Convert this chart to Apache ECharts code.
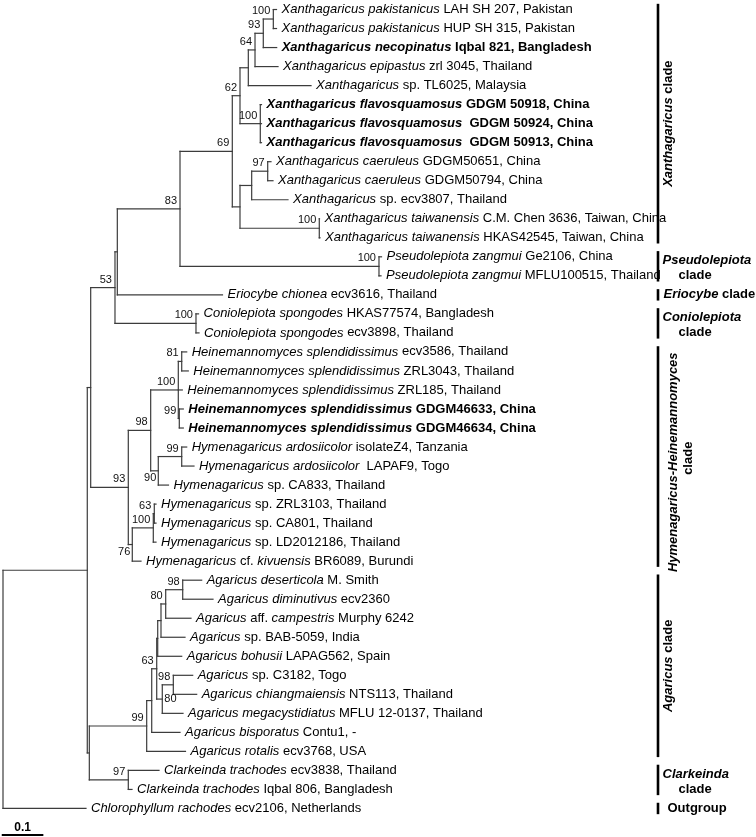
<!DOCTYPE html>
<html><head><meta charset="utf-8">
<script src="https://cdn.jsdelivr.net/npm/echarts@6/dist/echarts.min.js"></script>
<style>html,body{margin:0;padding:0;background:#fff}#c{width:756px;height:837px}</style>
</head><body><div id="c"></div>
<script>
// ---------- DATA ----------
// leaf labels, italic parts between *...*
const leafLabels = [
  "*Xanthagaricus pakistanicus* LAH SH 207, Pakistan",
  "*Xanthagaricus pakistanicus* HUP SH 315, Pakistan",
  "*Xanthagaricus necopinatus* Iqbal 821, Bangladesh",
  "*Xanthagaricus epipastus* zrl 3045, Thailand",
  "*Xanthagaricus* sp. TL6025, Malaysia",
  "*Xanthagaricus flavosquamosus* GDGM 50918, China",
  "*Xanthagaricus flavosquamosus*  GDGM 50924, China",
  "*Xanthagaricus flavosquamosus*  GDGM 50913, China",
  "*Xanthagaricus caeruleus* GDGM50651, China",
  "*Xanthagaricus caeruleus* GDGM50794, China",
  "*Xanthagaricus* sp. ecv3807, Thailand",
  "*Xanthagaricus taiwanensis* C.M. Chen 3636, Taiwan, China",
  "*Xanthagaricus taiwanensis* HKAS42545, Taiwan, China",
  "*Pseudolepiota zangmui* Ge2106, China",
  "*Pseudolepiota zangmui* MFLU100515, Thailand",
  "*Eriocybe chionea* ecv3616, Thailand",
  "*Coniolepiota spongodes* HKAS77574, Bangladesh",
  "*Coniolepiota spongodes* ecv3898, Thailand",
  "*Heinemannomyces splendidissimus* ecv3586, Thailand",
  "*Heinemannomyces splendidissimus* ZRL3043, Thailand",
  "*Heinemannomyces splendidissimus* ZRL185, Thailand",
  "*Heinemannomyces splendidissimus* GDGM46633, China",
  "*Heinemannomyces splendidissimus* GDGM46634, China",
  "*Hymenagaricus ardosiicolor* isolateZ4, Tanzania",
  "*Hymenagaricus ardosiicolor*  LAPAF9, Togo",
  "*Hymenagaricus* sp. CA833, Thailand",
  "*Hymenagaricus* sp. ZRL3103, Thailand",
  "*Hymenagaricus* sp. CA801, Thailand",
  "*Hymenagaricus* sp. LD2012186, Thailand",
  "*Hymenagaricus* cf. *kivuensis* BR6089, Burundi",
  "*Agaricus deserticola* M. Smith",
  "*Agaricus diminutivus* ecv2360",
  "*Agaricus* aff. *campestris* Murphy 6242",
  "*Agaricus* sp. BAB-5059, India",
  "*Agaricus bohusii* LAPAG562, Spain",
  "*Agaricus* sp. C3182, Togo",
  "*Agaricus chiangmaiensis* NTS113, Thailand",
  "*Agaricus megacystidiatus* MFLU 12-0137, Thailand",
  "*Agaricus bisporatus* Contu1, -",
  "*Agaricus rotalis* ecv3768, USA",
  "*Clarkeinda trachodes* ecv3838, Thailand",
  "*Clarkeinda trachodes* Iqbal 806, Bangladesh",
  "*Chlorophyllum rachodes* ecv2106, Netherlands"
];
const boldLeaves = [2, 5, 6, 7, 21, 22];
// distance from root of each leaf tip (substitutions/site)
const leafDepths = [
  0.6575, 0.6575, 0.6579, 0.6611, 0.7404, 0.6214, 0.6214, 0.6214, 0.6442, 0.6490,
  0.6851, 0.7608, 0.7620, 0.9099, 0.9087, 0.5276, 0.4700, 0.4712, 0.4416, 0.4454,
  0.4310, 0.4334, 0.4334, 0.4416, 0.4591, 0.3978, 0.3678, 0.3678, 0.3678, 0.3317,
  0.4776, 0.5048, 0.4519, 0.4375, 0.4296, 0.4560, 0.4656, 0.4327, 0.4255, 0.4387,
  0.3750, 0.3101, 0.1995
];
// internal nodes: children (N# = node, L# = leaf)
const nodeChildren = [
  ['N1','L42'], ['N2','N3'], ['N4','N5'], ['N6','N7'], ['N8','N9'],
  ['N10','N11'], ['N12','L39'], ['L40','L41'], ['N13','L15'], ['L16','L17'],
  ['N14','N15'], ['N16','L29'], ['N17','L38'], ['N18','N19'], ['N20','L20','N21'],
  ['N22','L25'], ['N23','L28'], ['N24','N25'], ['N26','N27'], ['L13','L14'],
  ['L18','L19'], ['L21','L22'], ['L23','L24'], ['L26','L27'], ['N28','L34'],
  ['N29','L37'], ['N30','N31'], ['N32','N33'], ['N34','L33'], ['L35','L36'],
  ['N35','L4'], ['L5','L6','L7'], ['N36','L10'], ['L11','L12'], ['N37','L32'],
  ['N38','L3'], ['L8','L9'], ['L30','L31'], ['N39','L2'], ['L0','L1']
];
const nodeDepths = [
  0, 0.2026, 0.2108, 0.2075, 0.2692, 0.3012, 0.3454, 0.3012, 0.2748, 0.4639,
  0.3550, 0.3108, 0.3575, 0.4255, 0.4214, 0.3733, 0.3613, 0.3695, 0.5512, 0.9038,
  0.4296, 0.4238, 0.4296, 0.3637, 0.3719, 0.3829, 0.5697, 0.5697, 0.3798, 0.4094,
  0.5897, 0.6185, 0.5978, 0.7603, 0.3911, 0.6058, 0.6363, 0.4320, 0.6257, 0.6498
];
const nodeSupport = [
  null, null, null, null, 53, 93, 99, 97, null, 100,
  98, 76, null, 83, 100, 90, 100, 63, 69, 100,
  81, 99, 99, 63, null, 80, 62, null, null, 98,
  null, 100, null, 100, 80, 64, 97, 98, 93, 100
];
// where a support value sits relative to its node (default: above-left)
const supportPlacement = { 11: 'below', 15: 'below', 25: 'right' };
// clades on the right
const cladeNames = ['Xanthagaricus', 'Pseudolepiota', 'Eriocybe', 'Coniolepiota',
  'Hymenagaricus-Heinemannomyces', 'Agaricus', 'Clarkeinda', 'Outgroup'];
const cladeFirstLeaf = [0, 13, 15, 16, 18, 30, 40, 42];
const cladeLastLeaf  = [12, 14, 15, 17, 29, 39, 41, 42];
const cladeLayout = ['vertical', 'twoLine', 'inline', 'twoLine', 'vertical2', 'vertical', 'twoLine', 'plain'];
const scaleBarLength = 0.1;
const scaleBarLabel = '0.1';

// ---------- LAYOUT HELPERS ----------
const FONT = '"Liberation Sans", Arial, Helvetica, sans-serif';
const LINE_COLOR = '#3c3c3c';
const PX_PER_UNIT = 416;          // 0.1 substitutions = 41.6 px
const GRID_LEFT = 3;
const X_MAX = (756 - GRID_LEFT) / PX_PER_UNIT;
const CLADE_BAR_X = (658 - GRID_LEFT) / PX_PER_UNIT;
const LABEL_GAP = 5;

function ref(r) { return { leaf: r[0] === 'L', i: +r.slice(1) }; }
const nodeY = [];
function yOf(r) {
  const o = ref(r);
  if (o.leaf) return o.i;
  if (nodeY[o.i] != null) return nodeY[o.i];
  const ch = nodeChildren[o.i];
  const v = (yOf(ch[0]) + yOf(ch[ch.length - 1])) / 2;
  nodeY[o.i] = v;
  return v;
}
function depthOf(r) { const o = ref(r); return o.leaf ? leafDepths[o.i] : nodeDepths[o.i]; }
nodeChildren.forEach((_, i) => yOf('N' + i));

// branch segments
const segments = [];
nodeChildren.forEach((ch, i) => {
  const d = nodeDepths[i];
  segments.push([d, yOf(ch[0]), d, yOf(ch[ch.length - 1])]);
  ch.forEach(c => segments.push([d, yOf(c), depthOf(c), yOf(c)]));
});

function richFor(label, bold) {
  const parts = label.split('*');
  let s = '';
  parts.forEach((p, k) => {
    if (!p) return;
    const it = k % 2 === 1;
    const key = bold ? (it ? 'bi' : 'b') : (it ? 'i' : 'n');
    s += '{' + key + '|' + p + '}';
  });
  return s;
}
function richStyles(size) {
  return {
    n:  { fontSize: size, fontFamily: FONT, fill: '#000' },
    i:  { fontSize: size, fontFamily: FONT, fontStyle: 'italic', fill: '#000' },
    b:  { fontSize: size, fontFamily: FONT, fontWeight: 'bold', fill: '#000' },
    bi: { fontSize: size, fontFamily: FONT, fontStyle: 'italic', fontWeight: 'bold', fill: '#000' }
  };
}
const RICH13 = richStyles(13);

const leafData = leafDepths.map((d, i) => [d, i]);
const supportData = [];
nodeSupport.forEach((s, i) => { if (s != null) supportData.push([nodeDepths[i], nodeY[i], i]); });
const cladeData = cladeNames.map((n, k) => [CLADE_BAR_X, cladeFirstLeaf[k], cladeLastLeaf[k], k]);

const chart = echarts.init(document.getElementById('c'), null, { renderer: 'canvas' });
chart.setOption({
  animation: false,
  backgroundColor: '#fff',
  grid: { left: GRID_LEFT, right: 0, top: 0, bottom: 0 },
  xAxis: { type: 'value', min: 0, max: X_MAX, show: false },
  yAxis: { type: 'value', min: -0.5, max: 43.5, inverse: true, show: false },
  series: [
    {
      type: 'custom', name: 'branches', data: segments, encode: { x: [0, 2], y: [1, 3] },
      renderItem: (params, api) => {
        const a = api.coord([api.value(0), api.value(1)]);
        const b = api.coord([api.value(2), api.value(3)]);
        return { type: 'line', shape: { x1: a[0], y1: a[1], x2: b[0], y2: b[1] },
          style: { stroke: LINE_COLOR, lineWidth: 1.2, lineCap: 'square' } };
      }
    },
    {
      type: 'custom', name: 'leaves', data: leafData, encode: { x: 0, y: 1 },
      renderItem: (params, api) => {
        const i = params.dataIndex;
        const p = api.coord([api.value(0), api.value(1)]);
        return { type: 'text', x: p[0] + LABEL_GAP, y: p[1],
          style: { text: richFor(leafLabels[i], boldLeaves.includes(i)), rich: RICH13,
            fontSize: 13, fontFamily: FONT, fill: '#000', align: 'left', verticalAlign: 'middle' } };
      }
    },
    {
      type: 'custom', name: 'support', data: supportData, encode: { x: 0, y: 1 },
      renderItem: (params, api) => {
        const ni = api.value(2);
        const p = api.coord([api.value(0), api.value(1)]);
        const where = supportPlacement[ni] || 'above';
        let x = p[0] - 3, y = p[1] - 8, align = 'right';
        if (where === 'below') { x = p[0] - 2; y = p[1] + 7; }
        if (where === 'right') { x = p[0] + 2; y = p[1]; align = 'left'; }
        return { type: 'text', x: x, y: y,
          style: { text: String(nodeSupport[ni]), fontSize: 11, fontFamily: FONT, fill: '#111',
            align: align, verticalAlign: 'middle' } };
      }
    },
    {
      type: 'custom', name: 'clades', data: cladeData, encode: { x: 0, y: 1 },
      renderItem: (params, api) => {
        const k = api.value(3);
        const first = api.value(1), last = api.value(2);
        const top = api.coord([api.value(0), first - 0.3]);
        const bot = api.coord([api.value(0), last + 0.3]);
        const bx = top[0];
        const children = [{ type: 'line', shape: { x1: bx, y1: top[1], x2: bx, y2: bot[1] },
          style: { stroke: '#000', lineWidth: 2.6 } }];
        const name = cladeNames[k];
        const lay = cladeLayout[k];
        const mid = (top[1] + bot[1]) / 2;
        const T = (text, x, y, align, rot) => ({ type: 'text', x: x, y: y, rotation: rot || 0,
          style: { text: text, rich: RICH13, fontSize: 13, fontFamily: FONT, fill: '#000',
            align: align, verticalAlign: 'middle' } });
        if (lay === 'vertical') {
          children.push(T('{bi|' + name + '}{b| clade}', bx + 10, mid, 'center', Math.PI / 2));
        } else if (lay === 'vertical2') {
          const c = api.coord([0, (first + last) / 2 + 0.3])[1];
          children.push(T('{bi|' + name + '}', bx + 15, c, 'center', Math.PI / 2));
          children.push(T('{b|clade}', bx + 30.5, c - 4, 'center', Math.PI / 2));
        } else if (lay === 'twoLine') {
          const y1 = api.coord([0, first + 0.2])[1];
          const y2 = api.coord([0, last])[1];
          children.push(T('{bi|' + name + '}', bx + 4.5, y1, 'left'));
          children.push(T('{b|clade}', bx + 20.5, y2, 'left'));
        } else if (lay === 'inline') {
          const y1 = api.coord([0, first])[1];
          children.push(T('{bi|' + name + '}{b| clade}', bx + 5.5, y1, 'left'));
        } else {
          const y1 = api.coord([0, first])[1];
          children.push(T('{b|' + name + '}', bx + 9.5, y1, 'left'));
        }
        return { type: 'group', children: children };
      }
    },
    {
      type: 'custom', name: 'scale', data: [[-0.003, 43.39]], encode: { x: 0, y: 1 },
      renderItem: (params, api) => {
        const a = api.coord([api.value(0), api.value(1)]);
        const b = api.coord([api.value(0) + scaleBarLength, api.value(1)]);
        return { type: 'group', children: [
          { type: 'line', shape: { x1: a[0], y1: a[1], x2: b[0], y2: b[1] }, style: { stroke: '#000', lineWidth: 2 } },
          { type: 'text', x: (a[0] + b[0]) / 2, y: a[1] - 7,
            style: { text: scaleBarLabel, fontSize: 12, fontWeight: 'bold', fontFamily: FONT, fill: '#000',
              align: 'center', verticalAlign: 'middle' } }
        ] };
      }
    }
  ]
});
</script></body></html>
